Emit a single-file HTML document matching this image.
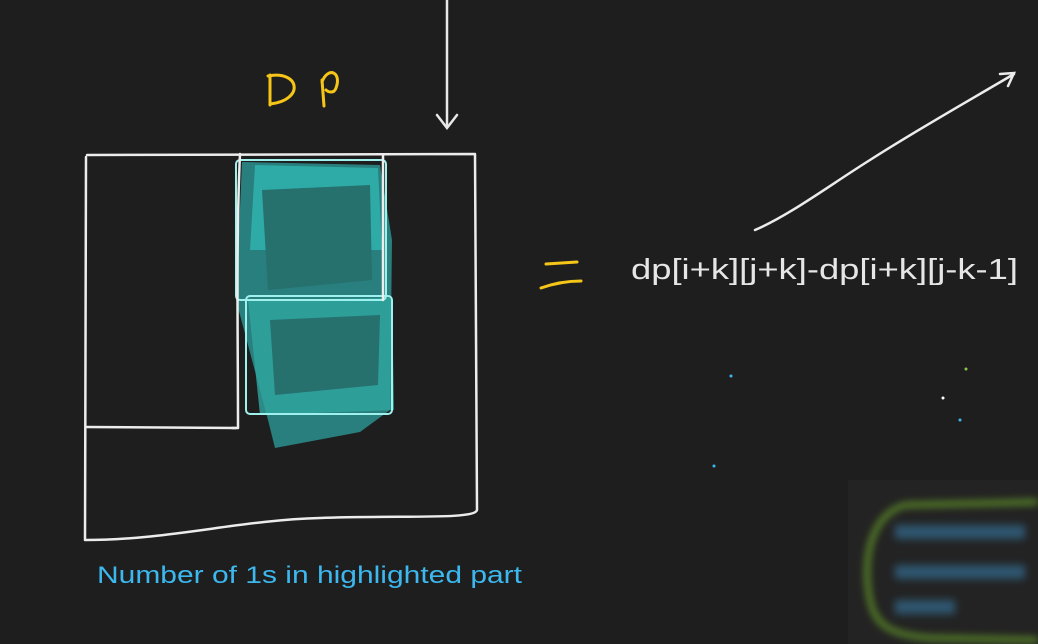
<!DOCTYPE html>
<html>
<head>
<meta charset="utf-8">
<style>
  html,body{margin:0;padding:0;background:#1e1e1e;}
  svg{display:block;}
  text{font-family:"Liberation Sans",sans-serif;}
</style>
</head>
<body>
<svg width="1038" height="644" viewBox="0 0 1038 644" xmlns="http://www.w3.org/2000/svg">
  <defs>
    <filter id="blur" x="-20%" y="-20%" width="140%" height="140%"><feGaussianBlur stdDeviation="4"/></filter>
  </defs>
  <rect width="1038" height="644" fill="#1e1e1e"/>

  <g stroke="#e8e8e8" stroke-width="2.5" fill="none" stroke-linecap="round">
    <path d="M447 0 L447 127"/>
    <path d="M437 115 L447 128 L457 115"/>
  </g>

  <g stroke="#f5c518" stroke-width="3" fill="none" stroke-linecap="round">
    <path d="M270 75 L270 105 M268 76 C300 70 305 100 270 104"/>
    <path d="M324 106 L322 80 M322 82 C328 66 342 72 336 88 C334 94 328 92 326 90"/>
  </g>

  <g>
    <path d="M242 162 L380 165 L392 240 L390 410 L360 432 L275 448 L268 420 L236 300 Z" fill="#2a8a87" opacity="0.9"/>
    <path d="M255 165 L378 168 L382 250 L250 250 Z" fill="#2fb3ad" opacity="0.85"/>
    <path d="M248 300 L392 298 L394 410 L260 415 Z" fill="#2fa6a0" opacity="0.8"/>
    <path d="M262 190 L370 185 L372 280 L268 290 Z" fill="#26706e"/>
    <path d="M270 320 L380 315 L378 385 L275 395 Z" fill="#26706e"/>
    <rect x="236" y="160" width="150" height="140" fill="none" stroke="#9ff1ee" stroke-width="2" rx="4"/>
    <rect x="246" y="296" width="146" height="118" fill="none" stroke="#9ff1ee" stroke-width="2" rx="4"/>
  </g>

  <g stroke="#ececec" stroke-width="2.5" fill="none" stroke-linecap="round" stroke-linejoin="round">
    <path d="M87 155 L475 154 L477 510 C475 520 400 515 320 518 C240 520 170 540 85 540 L86 157"/>
    <path d="M86 427 L236 428"/>
    <path d="M240 154 C236 240 238 340 238 428 L232 428"/>
    <path d="M383 155 L383 300"/>
  </g>

  <g stroke="#f5c518" stroke-width="3" fill="none" stroke-linecap="round">
    <path d="M546 264 L577 262"/>
    <path d="M541 288 C555 283 568 281 581 281"/>
  </g>

  <text x="631" y="279" fill="#e6e6e6" font-size="29" textLength="387" lengthAdjust="spacingAndGlyphs">dp[i+k][j+k]-dp[i+k][j-k-1]</text>

  <g stroke="#ececec" stroke-width="2.5" fill="none" stroke-linecap="round">
    <path d="M755 230 C790 215 830 185 870 160 C920 128 970 100 1014 74"/>
    <path d="M1000 74 L1014 73 L1008 86"/>
  </g>

  <text x="97" y="583" fill="#3cb8ee" font-size="24" textLength="425" lengthAdjust="spacingAndGlyphs">Number of 1s in highlighted part</text>

  <g>
    <circle cx="731" cy="376" r="1.5" fill="#3cb8ee"/>
    <circle cx="714" cy="466" r="1.5" fill="#3cb8ee"/>
    <circle cx="966" cy="369" r="1.5" fill="#8bc34a"/>
    <circle cx="943" cy="398" r="1.5" fill="#ffffff"/>
    <circle cx="960" cy="420" r="1.5" fill="#3cb8ee"/>
  </g>

  <g>
    <rect x="848" y="480" width="190" height="164" fill="#232323"/>
    <g filter="url(#blur)">
      <path d="M905 505 C870 515 862 560 870 600 C875 625 890 635 930 638 L1038 640" stroke="#6fae2a" stroke-width="4" fill="none"/>
      <path d="M905 505 L1038 502" stroke="#6fae2a" stroke-width="4" fill="none"/>
      <rect x="895" y="525" width="130" height="14" fill="#2f5670"/>
      <rect x="895" y="565" width="130" height="14" fill="#2f5670"/>
      <rect x="895" y="600" width="60" height="14" fill="#2f5670"/>
    </g>
  </g>
</svg>
</body>
</html>
